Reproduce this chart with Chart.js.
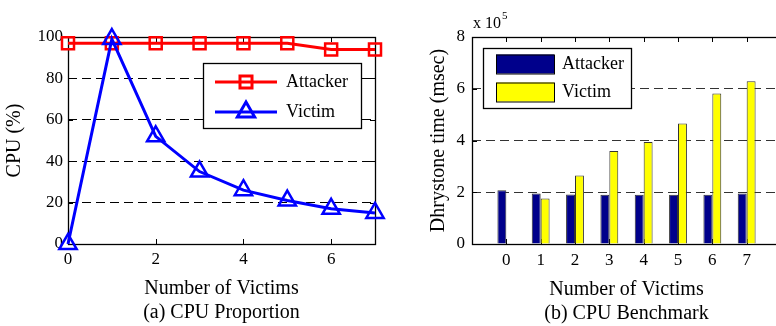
<!DOCTYPE html>
<html>
<head>
<meta charset="utf-8">
<script src="https://cdn.jsdelivr.net/npm/chart.js@4.4.1/dist/chart.umd.min.js"></script>
<style>
  html, body { margin: 0; padding: 0; background: #fff; overflow: hidden; }
  #left { position: absolute; left: 0; top: 0; width: 390px; height: 326px; }
  #right { position: absolute; left: 390px; top: 0; width: 386px; height: 326px; overflow: hidden; }
</style>
</head>
<body>
<div id="left"><canvas id="cpu" width="390" height="326"></canvas></div>
<div id="right"><canvas id="bench" width="392" height="326"></canvas></div>
<script>
// data
const victims = [0, 1, 2, 3, 4, 5, 6, 7];
const cpuAttacker = [97, 97, 97, 97, 97, 97, 94, 94];
const cpuVictim = [0, 99, 52, 35, 26, 21, 17, 15];
const cpuTicks = [0, 20, 40, 60, 80, 100];
const benchAttacker = [208000, 195000, 191000, 190000, 190000, 190000, 190000, 195000];
const benchVictim = [0, 176000, 265000, 359000, 394000, 466000, 582000, 629000];
const benchTicks = [0, 200000, 400000, 600000, 800000];
const seriesNames = ['Attacker', 'Victim'];

const SERIF = "'Liberation Serif', 'Times New Roman', serif";
Chart.defaults.font.family = SERIF;
Chart.defaults.color = '#000';
Chart.defaults.animation = false;

// box round the plot area + inward tick marks (matlab style)
const frame = {
  id: 'frame',
  beforeDatasetsDraw(chart, args, o) {
    const { ctx, chartArea: a, scales } = chart;
    const len = o.tickLen || 5;
    ctx.save();
    ctx.strokeStyle = '#000';
    ctx.lineWidth = 1;
    ctx.beginPath();
    scales.x.ticks.forEach(t => {
      const px = Math.round(scales.x.getPixelForValue(t.value)) + 0.5;
      ctx.moveTo(px, a.bottom); ctx.lineTo(px, a.bottom - len);
      ctx.moveTo(px, a.top); ctx.lineTo(px, a.top + len);
    });
    scales.y.ticks.forEach(t => {
      const py = Math.round(scales.y.getPixelForValue(t.value)) + 0.5;
      ctx.moveTo(a.left, py); ctx.lineTo(a.left + len, py);
      ctx.moveTo(a.right, py); ctx.lineTo(a.right - len, py);
    });
    ctx.stroke();
    ctx.lineWidth = 1.3;
    ctx.strokeRect(Math.round(a.left) + 0.5, Math.round(a.top) + 0.5,
      Math.round(a.right - a.left), Math.round(a.bottom - a.top));
    ctx.restore();
  }
};

// legend with a box round it, placed inside the plot
const boxLegend = {
  id: 'boxLegend',
  afterDraw(chart, args, o) {
    const ctx = chart.ctx;
    ctx.save();
    ctx.fillStyle = '#fff';
    ctx.fillRect(o.x, o.y, o.w, o.h);
    ctx.strokeStyle = '#000';
    ctx.lineWidth = 1.3;
    ctx.strokeRect(o.x + 0.5, o.y + 0.5, o.w, o.h);
    ctx.font = '18px ' + SERIF;
    ctx.textBaseline = 'middle';
    seriesNames.forEach((name, i) => {
      const ds = chart.data.datasets[i];
      const y = o.y + o.first + i * o.gap;
      if (o.kind === 'line') {
        ctx.strokeStyle = ds.borderColor;
        ctx.lineWidth = ds.borderWidth;
        ctx.beginPath();
        ctx.moveTo(o.x + o.s0, y);
        ctx.lineTo(o.x + o.s1, y);
        ctx.stroke();
        ctx.fillStyle = 'rgba(0,0,0,0)';
        Chart.helpers.drawPoint(ctx, {
          pointStyle: ds.pointStyle, radius: ds.pointRadius,
          borderWidth: ds.pointBorderWidth, rotation: 0
        }, o.x + (o.s0 + o.s1) / 2, y);
      } else {
        ctx.fillStyle = ds.backgroundColor;
        ctx.fillRect(o.x + o.s0, y - o.sh / 2, o.s1 - o.s0, o.sh);
        ctx.strokeStyle = '#000';
        ctx.lineWidth = 1;
        ctx.strokeRect(o.x + o.s0 + 0.5, y - o.sh / 2 + 0.5, o.s1 - o.s0, o.sh);
      }
      ctx.fillStyle = '#000';
      ctx.fillText(name, o.x + o.tx, y);
    });
    ctx.restore();
  }
};

// the "x 10^5" multiplier over the y axis
const multiplier = {
  id: 'multiplier',
  afterDraw(chart) {
    const ctx = chart.ctx;
    ctx.save();
    ctx.fillStyle = '#000';
    ctx.textBaseline = 'alphabetic';
    ctx.font = '16px ' + SERIF;
    ctx.fillText('x 10', 83, 28);
    const w = ctx.measureText('x 10').width;
    ctx.font = '11px ' + SERIF;
    ctx.fillText('5', 83 + w + 1, 19);
    ctx.restore();
  }
};

const tickFont = { size: 17 };
const titleFont = { size: 20, lineHeight: 1.2 };

new Chart(document.getElementById('cpu').getContext('2d'), {
  type: 'line',
  data: {
    datasets: [
      {
        label: seriesNames[0],
        data: victims.map((v, i) => ({ x: v, y: cpuAttacker[i] })),
        borderColor: '#ff0000',
        borderWidth: 3,
        pointStyle: 'rect',
        pointRadius: 8.5,
        pointBorderWidth: 2.5,
        pointBackgroundColor: 'rgba(0,0,0,0)',
        pointBorderColor: '#ff0000',
        clip: false,
        order: 1
      },
      {
        label: seriesNames[1],
        data: victims.map((v, i) => ({ x: v, y: cpuVictim[i] })),
        borderColor: '#0000ff',
        borderWidth: 3,
        pointStyle: 'triangle',
        pointRadius: 10,
        pointBorderWidth: 2.5,
        pointBackgroundColor: 'rgba(0,0,0,0)',
        pointBorderColor: '#0000ff',
        clip: false,
        order: 0
      }
    ]
  },
  options: {
    responsive: false,
    layout: { padding: { top: 37, right: 15, left: 0, bottom: 0 } },
    plugins: {
      legend: { display: false },
      tooltip: { enabled: false },
      frame: { tickLen: 5 },
      boxLegend: { kind: 'line', x: 203, y: 63, w: 158, h: 65, first: 19, gap: 30, s0: 12, s1: 74, tx: 83 }
    },
    scales: {
      x: {
        type: 'linear', min: 0, max: 7,
        afterBuildTicks: s => { s.ticks = s.ticks.filter(t => t.value % 2 === 0 && t.value <= 6); },
        afterFit: s => { s.height = 82; },
        ticks: { stepSize: 2, font: tickFont, padding: 5, maxRotation: 0 },
        grid: { display: false, drawTicks: false },
        border: { display: false },
        title: { display: true, text: ['Number of Victims', '(a) CPU Proportion'], font: titleFont, padding: { top: 0, bottom: 1 } }
      },
      y: {
        min: 0, max: 100,
        afterBuildTicks: s => { s.ticks = cpuTicks.map(v => ({ value: v })); },
        afterFit: s => { s.width = 68; },
        ticks: { font: tickFont, padding: 5 },
        grid: {
          drawTicks: false,
          color: c => (c.tick && c.tick.value > 0 && c.tick.value < 100) ? '#000' : 'rgba(0,0,0,0)'
        },
        border: { display: false, dash: [9, 5] },
        title: { display: true, text: 'CPU (%)', font: titleFont, padding: { top: 3, bottom: 0 } }
      }
    }
  },
  plugins: [frame, boxLegend]
});

new Chart(document.getElementById('bench').getContext('2d'), {
  type: 'bar',
  data: {
    datasets: [
      {
        label: seriesNames[0],
        data: victims.map((v, i) => ({ x: v, y: benchAttacker[i] })),
        backgroundColor: '#00008b',
        borderColor: '#333',
        borderWidth: 1,
        categoryPercentage: 0.52,
        barPercentage: 1
      },
      {
        label: seriesNames[1],
        data: victims.map((v, i) => ({ x: v, y: benchVictim[i] })),
        backgroundColor: '#ffff00',
        borderColor: '#333',
        borderWidth: 1,
        categoryPercentage: 0.52,
        barPercentage: 1
      }
    ]
  },
  options: {
    responsive: false,
    layout: { padding: { top: 37, right: 1, left: 0, bottom: 0 } },
    plugins: {
      legend: { display: false },
      tooltip: { enabled: false },
      frame: { tickLen: 5 },
      boxLegend: { kind: 'box', x: 93, y: 48, w: 148, h: 60, first: 16, gap: 28, s0: 13, s1: 71, sh: 19, tx: 79 }
    },
    scales: {
      x: {
        type: 'linear', min: -1, max: 8, offset: false,
        afterBuildTicks: s => { s.ticks = victims.map(v => ({ value: v })); },
        afterFit: s => { s.height = 82; },
        ticks: { font: tickFont, padding: 6, maxRotation: 0 },
        grid: { display: false, drawTicks: false },
        border: { display: false },
        title: { display: true, text: ['Number of Victims', '(b) CPU Benchmark'], font: titleFont, padding: { top: 0, bottom: 0 } }
      },
      y: {
        min: 0, max: 800000,
        afterBuildTicks: s => { s.ticks = benchTicks.map(v => ({ value: v })); },
        afterFit: s => { s.width = 82; },
        ticks: { font: tickFont, padding: 7, callback: v => String(v / 100000) },
        grid: {
          drawTicks: false,
          color: c => (c.tick && c.tick.value > 0 && c.tick.value < 800000) ? '#333' : 'rgba(0,0,0,0)'
        },
        border: { display: false, dash: [9, 5] },
        title: { display: true, text: 'Dhrystone time (msec)', font: titleFont, padding: { top: 37, bottom: 0 } }
      }
    }
  },
  plugins: [frame, boxLegend, multiplier]
});
</script>
</body>
</html>
